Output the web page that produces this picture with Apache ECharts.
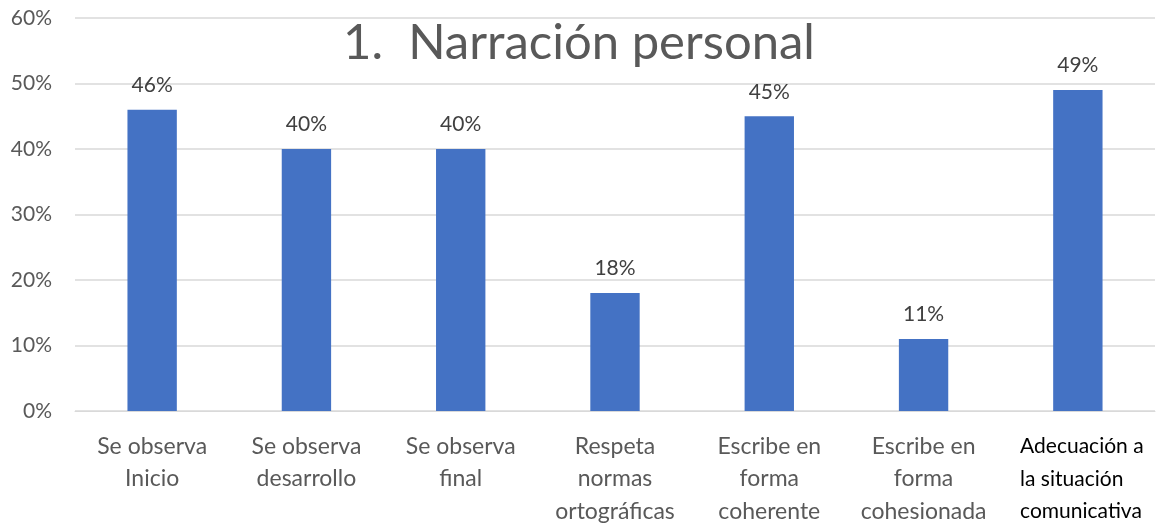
<!DOCTYPE html>
<html><head><meta charset="utf-8">
<script src="https://cdn.jsdelivr.net/npm/echarts@6/dist/echarts.min.js"></script>
<style>html,body{margin:0;padding:0;background:#fff}#c{width:1158px;height:525px}</style>
</head><body><div id="c"></div>
<script>
const categories = ["Se observa\nInicio","Se observa\ndesarrollo","Se observa\nfinal","Respeta\nnormas\nortográficas","Escribe en\nforma\ncoherente","Escribe en\nforma\ncohesionada","Adecuación a\nla situación\ncomunicativa"];
const values = [46, 40, 40, 18, 45, 11, 49];
const yTicks = [0, 10, 20, 30, 40, 50, 60];
const titleText = "1.  Narración personal";

const chart = echarts.init(document.getElementById('c'));
const FONT = 'Lato';
chart.setOption({
  animation: false,
  title: {text: titleText, left: 'center', top: 14, textStyle: {fontFamily: FONT, fontSize: 49, fontWeight: 'normal', color: '#595959'}},
  grid: {left: 75, right: 3, top: 18, bottom: 114, containLabel: false, outerBoundsMode: 'none'},
  xAxis: {type: 'category', data: categories,
    axisLine: {lineStyle: {color: '#d9d9d9', width: 1}}, axisTick: {show: false},
    axisLabel: {interval: 0, margin: 19, fontFamily: FONT, fontSize: 23, color: '#595959', lineHeight: 32.5,
      formatter: function(v, i){ return i === categories.length - 1 ? '{b|' + v.split('\n').join('}\n{b|') + '}' : v; },
      rich: {b: {fontFamily: FONT, fontSize: 21, color: '#000000', lineHeight: 32.5, align: 'left', padding: [0,0,0,8]}}}},
  yAxis: {type: 'value', min: yTicks[0], max: yTicks[yTicks.length-1], interval: 10,
    axisLine: {show: false}, axisTick: {show: false},
    splitLine: {lineStyle: {color: '#d9d9d9', width: 1.5}},
    axisLabel: {margin: 23, fontFamily: FONT, fontSize: 21, color: '#595959', formatter: '{value}%'}},
  series: [{type: 'bar', data: values, barWidth: '32%', itemStyle: {color: '#4472c4'},
    label: {show: true, position: 'top', distance: 14, fontFamily: FONT, fontSize: 21, color: '#404040', formatter: '{c}%'}}]
});
</script></body></html>
